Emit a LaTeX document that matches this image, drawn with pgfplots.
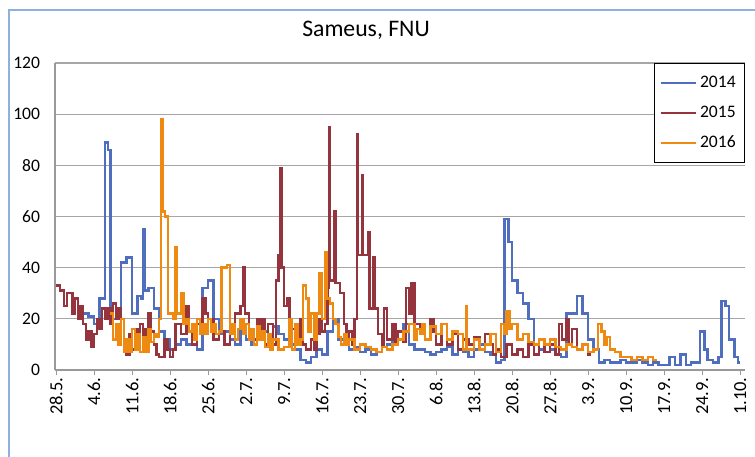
\documentclass[border=0pt]{standalone}
\usepackage{fontspec}
\setmainfont{Carlito}
\usepackage{pgfplots}
\pgfplotsset{compat=1.18}

\definecolor{c2014}{RGB}{79,111,190}
\definecolor{c2015}{RGB}{150,52,62}
\definecolor{c2016}{RGB}{238,138,18}
\definecolor{frameblue}{RGB}{142,176,222}

\begin{document}
\begin{tikzpicture}
\useasboundingbox (0,0) rectangle (15.1cm,9.12cm);
\draw[frameblue, line width=1pt] (0.18cm,-0.4cm) -- (0.18cm,8.92cm) -- (16cm,8.92cm);
\begin{axis}[
 at={(1.1cm,1.72cm)}, anchor=south west,
 scale only axis, width=13.8cm, height=6.14cm,
 xmin=-0.2, xmax=126.9, ymin=0, ymax=120,
 ytick={0,20,...,120},
 xtick={0,7,...,126},
 xticklabels={28.5.,4.6.,11.6.,18.6.,25.6.,2.7.,9.7.,16.7.,23.7.,30.7.,6.8.,13.8.,20.8.,27.8.,3.9.,10.9.,17.9.,24.9.,1.10.},
 xticklabel style={rotate=90, anchor=east, font=\fontsize{10.5}{12}\selectfont, inner sep=1pt},
 yticklabel style={font=\fontsize{10}{12}\selectfont, xshift=-2pt},
 /pgf/number format/assume math mode=true,
 axis x line*=bottom, axis y line*=left,
 axis line style={gray!80, line width=0.6pt, -},
 ymajorgrids, grid style={gray!70, line width=0.6pt},
 x tick style={gray!80, line width=0.6pt},
 xtick pos=bottom, tick align=outside, major tick length=3pt,
 y tick style={draw=none},
 legend style={at={(1,1)}, anchor=north east, draw=black, line width=0.6pt,
   font=\fontsize{10}{12}\selectfont, inner xsep=3pt, inner ysep=5pt, row sep=5pt,
   legend cell align=left},
 legend image code/.code={\draw[#1, line width=1.1pt] (0cm,0cm) -- (0.7cm,0cm);},
 every axis plot/.append style={const plot, line width=1.4pt, mark=none},
]
\addplot[c2014] coordinates {
 (5,22) (6,21) (7,18) (8,28) (9,89) (9.6,86) (10,20) (11,24) (12,42) (13,44)
 (14,22) (15,29) (15.6,28) (16,55) (16.4,31) (17,32) (18,24) (19,15) (20,12) (21,8)
 (22,10) (23,12) (24,10) (25,14) (26,8) (27,32) (28,35) (29,20) (30,14) (31,15)
 (32,12) (33,10) (34,15) (35,12) (36,10) (37,12) (38,15) (39,14) (40,17) (41,14)
 (42,12) (43,10) (44,8) (45,4) (46,3) (47,5) (48,8) (49,6) (50,15) (51,20)
 (52,12) (53,10) (54,8) (55,9) (56,7) (57,8) (58,6) (59,7) (60,9) (61,10)
 (62,12) (63,12) (64,18) (65,10) (66,8) (67,8) (68,7) (69,6) (70,7) (71,8)
 (72,9) (73,6) (74,8) (75,7) (76,5) (77,8) (78,10) (79,7) (80,6) (81,3)
 (82,4) (82.6,59) (83.3,50) (84,35) (85,30) (86,26) (87,20) (88,10) (89,8) (90,7)
 (91,8) (92,6) (93,5) (94,22) (95,22) (96,29) (97,22) (98,12) (99,8) (100,3)
 (101,4) (102,3) (103,3) (104,4) (105,3) (106,3) (107,4) (108,3) (109,2) (110,3)
 (111,2) (112,2) (113,5) (114,2) (115,6) (116,2) (117,3) (118,3) (118.6,15) (119.4,8)
 (120,4) (121,3) (122,5) (122.6,27) (123.3,25) (124,12) (125,5) (125.6,3) (126,3)};
\addplot[c2015] coordinates {
 (0,33) (0.7,31) (1.5,25) (2,30) (3,22) (3.5,28) (4,20) (4.5,25) (5,18) (5.5,12)
 (6,15) (6.5,9) (7,14) (7.5,20) (8,16) (8.5,24) (9,20) (9.5,24) (10,18) (10.5,26)
 (11,20) (11.5,24) (12,20) (12.5,12) (13,6) (13.5,14) (14,8) (14.5,16) (15,10) (15.5,18)
 (16,12) (16.5,16) (17,22) (17.5,15) (18,10) (18.5,6) (19,5) (20,12) (20.5,8) (21,5)
 (21.5,8) (22,18) (23,14) (24,25) (24.5,15) (25,10) (26,18) (27,28) (27.5,22) (28,20)
 (29,12) (30,15) (31,10) (32,18) (33,22) (34,25) (34.5,40) (34.8,22) (35.5,15) (36,12)
 (37,20) (37.5,14) (38,20) (38.5,10) (39,18) (40,10) (40.5,35) (41,45) (41.3,79) (41.5,40)
 (42,25) (42.5,28) (43,16) (44,18) (44.5,12) (45,20) (45.5,10) (46,8) (47,12) (47.5,8)
 (48,14) (48.5,20) (49,15) (49.5,18) (50,32) (50.3,95) (50.5,35) (51.3,62) (51.5,34)
 (52.3,30) (53,18) (53.5,12) (54,15) (54.5,10) (55,20) (55.4,92) (55.6,45) (56.3,76) (56.5,45)
 (57.5,54) (57.7,24) (58.5,44) (58.7,24) (59.3,14) (60,10) (60.4,24) (61,12) (62,18) (62.5,10)
 (63,15) (64,11) (64.5,32) (65,22) (65.5,34) (66,18) (67,14) (68,12) (69,20) (69.5,15)
 (70,10) (71,18) (72,10) (73,14) (74,8) (75,12) (76,10) (77,13) (78,8) (79,14)
 (80,10) (80.5,6) (81,8) (82,5) (83,10) (84,6) (85,8) (86,5) (87,10) (88,6)
 (89,12) (90,7) (91,10) (92,6) (92.6,18) (93.2,12) (94,20) (94.5,10) (95,16) (96,8)
 (97,10) (98,6) (98.5,6)};
\addplot[c2016] coordinates {
 (10,22) (10.5,12) (11,18) (11.5,10) (12,20) (12.5,7) (13,12) (13.5,7) (14,16) (14.5,8)
 (15,14) (15.5,7) (16,13) (16.5,7) (17,16) (17.5,11) (18,14) (18.5,13) (19,20) (19.3,98)
 (19.6,62) (20.1,60) (20.6,22) (21.5,20) (22,48) (22.3,22) (23,30) (23.5,18) (24,20) (24.5,15)
 (25,18) (25.5,12) (26,20) (26.5,14) (27,18) (27.5,14) (28,20) (28.5,15) (29,18) (29.5,14)
 (30,15) (30.5,40) (31.5,41) (32,14) (32.5,18) (33,12) (33.5,16) (34,20) (34.5,14) (35,18)
 (35.5,12) (36,16) (36.5,10) (37,17) (37.5,12) (38,15) (38.5,9) (39,14) (39.5,8) (40,12)
 (41,8) (42,9) (43,20) (43.5,8) (44,18) (44.5,10) (45,12) (45.5,33) (46,28) (46.5,15)
 (47,22) (47.5,12) (48,22) (48.5,38) (49,20) (49.5,46) (49.8,28) (50.5,26) (51,20) (51.5,18)
 (52,13) (52.5,10) (53,14) (53.5,10) (54,12) (55,8) (56,10) (57,9) (58,8) (59,7)
 (60,9) (61,8) (62,10) (63,12) (64,15) (65,18) (66,12) (66.5,16) (67,14) (67.5,18)
 (68,12) (69,17) (70,14) (71,18) (72,12) (73,15) (74,14) (75,8) (75.5,25) (75.7,8)
 (77,12) (78,8) (79,10) (80,14) (81,7) (82,18) (82.5,14) (83,23) (83.5,16) (84,18)
 (85,12) (86,14) (87,11) (88,10) (89,12) (90,10) (91,12) (92,9) (93,8) (94,10)
 (95,9) (96,8) (97,10) (98,7) (99,8) (99.8,18) (100.5,15) (101,10) (101.5,13) (102,8)
 (103,7) (104,5) (105,5) (106,4) (107,5) (108,4) (109,5) (110,4) (110.6,4)};
\legend{2014,2015,2016}
\end{axis}
\node[font=\fontsize{13.5}{16}\selectfont] at (7.32cm,8.52cm) {Sameus, FNU};
\end{tikzpicture}
\end{document}
